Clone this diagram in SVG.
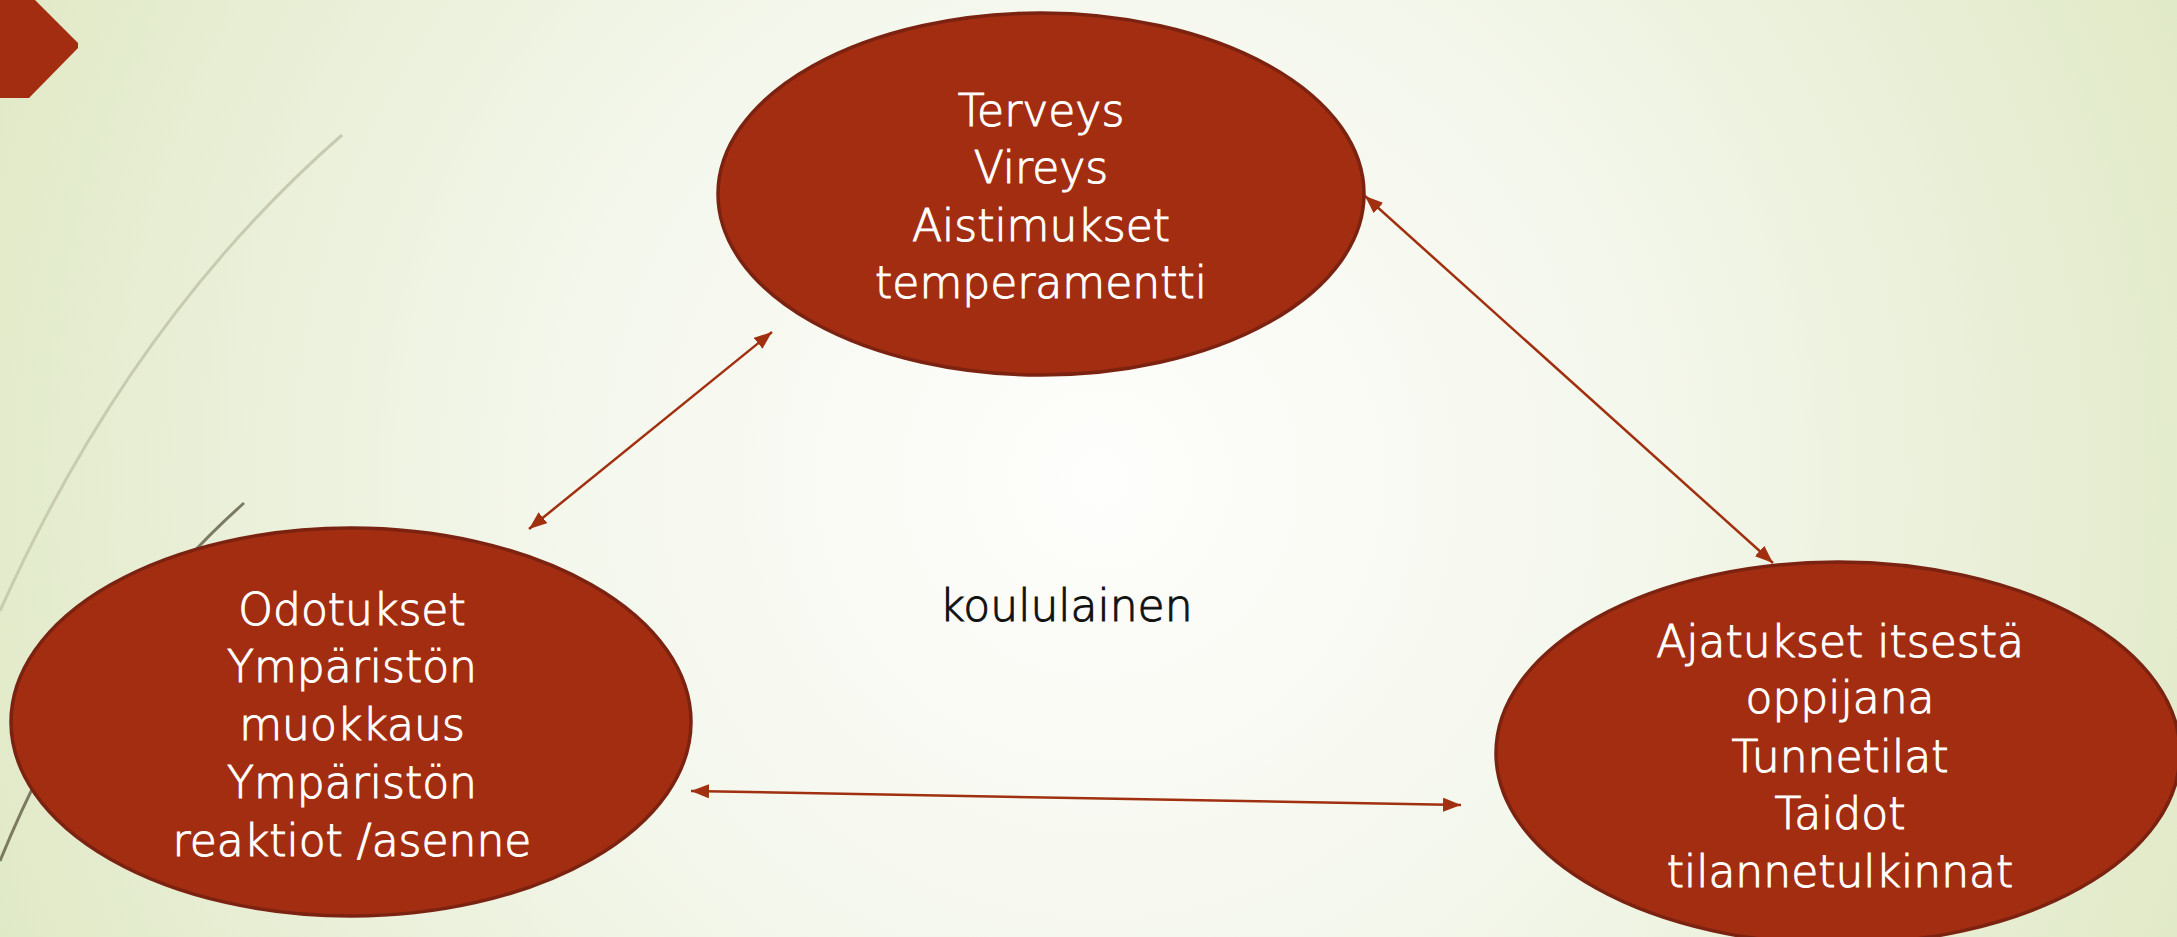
<svg xmlns="http://www.w3.org/2000/svg" width="2177" height="937" viewBox="0 0 2177 937">
<style>
.node{fill:#a32d11;stroke:#7b2211;stroke-width:3.5}
.lbl{font-family:"DejaVu Sans","Liberation Sans",sans-serif;font-weight:300;font-size:44px;fill:#ffffff;stroke:#ffffff;stroke-width:1;text-anchor:middle}
.conn{stroke:#a0300f;stroke-width:2.5;fill:none;marker-start:url(#ah);marker-end:url(#ah)}
</style>
<defs>
<radialGradient id="bg" gradientUnits="userSpaceOnUse" cx="1100" cy="480" r="1200">
<stop offset="0" stop-color="#fefefc"/>
<stop offset="0.45" stop-color="#f4f7ec"/>
<stop offset="1" stop-color="#e0e9c6"/>
</radialGradient>
<marker id="ah" viewBox="0 0 18 14" refX="18" refY="7" markerWidth="18" markerHeight="14" markerUnits="userSpaceOnUse" orient="auto-start-reverse">
<path d="M0,0 L18,7 L0,14 z" fill="#a0300f"/>
</marker>
</defs>
<rect width="2177" height="937" fill="url(#bg)"/>
<g id="decor">
<polygon points="0,0 35,0 78,43 78,48 29,98 0,98" fill="#a32d11"/>
<path d="M342,135 Q130,320 0,611" fill="none" stroke="#c9cbb0" stroke-width="3"/>
<path d="M244,503 Q90,640 0,861" fill="none" stroke="#7d7a62" stroke-width="3"/>
</g>
<g id="connectors">
<line class="conn" x1="772" y1="332" x2="529" y2="529"/>
<line class="conn" x1="1365" y1="196" x2="1773" y2="563"/>
<line class="conn" x1="691" y1="791" x2="1461" y2="805"/>
</g>
<g id="node-top">
<ellipse class="node" cx="1041" cy="194" rx="323" ry="181"/>
<text class="lbl"><tspan x="1041" y="126">Terveys</tspan><tspan x="1041" y="183">Vireys</tspan><tspan x="1041" y="241">Aistimukset</tspan><tspan x="1041" y="298">temperamentti</tspan></text>
</g>
<g id="node-left">
<ellipse class="node" cx="351" cy="722" rx="340" ry="194"/>
<text class="lbl"><tspan x="352" y="625">Odotukset</tspan><tspan x="352" y="682">Ympäristön</tspan><tspan x="352" y="740">muokkaus</tspan><tspan x="352" y="798">Ympäristön</tspan><tspan x="352" y="856">reaktiot /asenne</tspan></text>
</g>
<g id="node-right">
<ellipse class="node" cx="1838" cy="753" rx="342" ry="191"/>
<text class="lbl"><tspan x="1840" y="657">Ajatukset itsestä</tspan><tspan x="1840" y="713">oppijana</tspan><tspan x="1840" y="772">Tunnetilat</tspan><tspan x="1840" y="829">Taidot</tspan><tspan x="1840" y="887">tilannetulkinnat</tspan></text>
</g>
<g id="node-center">
<text x="1066" y="621" font-family="DejaVu Sans, Liberation Sans, sans-serif" font-weight="300" font-size="44" fill="#111111" stroke="#111111" stroke-width="1" text-anchor="middle">koululainen</text>
</g>
</svg>
